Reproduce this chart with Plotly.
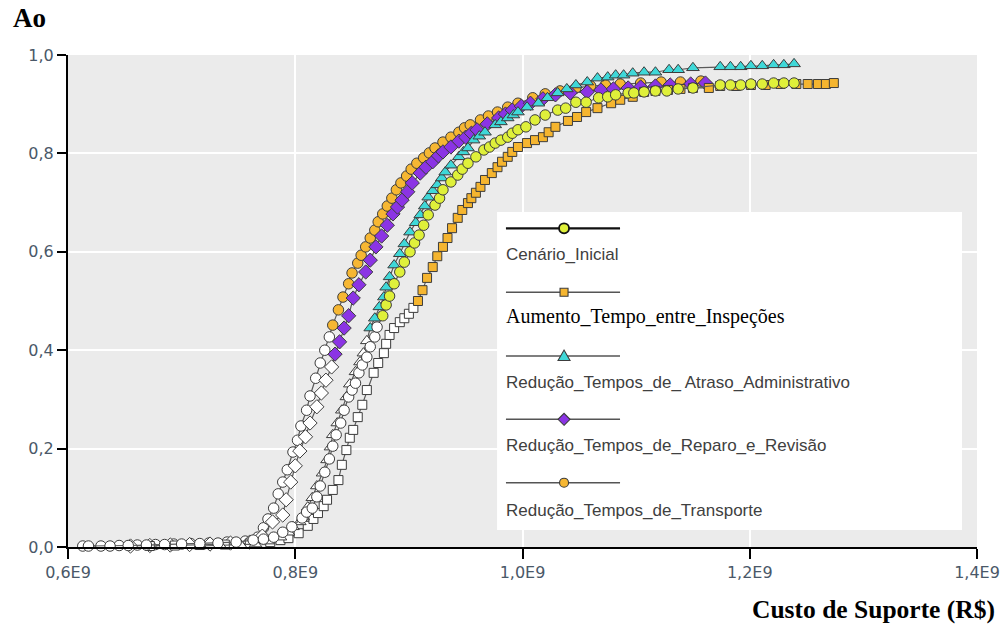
import plotly.graph_objects as go

# ---------------- data (Custo de Suporte in units of 1E9 R$, Ao as fraction) ----------------
cenario_x = [0.618, 0.637, 0.653, 0.669, 0.685, 0.700, 0.716, 0.732, 0.748, 0.763, 0.772, 0.781,
             0.789, 0.797, 0.806, 0.810, 0.815, 0.819, 0.822, 0.826, 0.830, 0.833, 0.836, 0.840,
             0.843, 0.847, 0.850, 0.853, 0.856, 0.859, 0.863, 0.866, 0.870, 0.872, 0.877, 0.880,
             0.883, 0.887, 0.892, 0.896, 0.901, 0.905, 0.909, 0.913, 0.917, 0.923, 0.927, 0.930,
             0.937, 0.943, 0.947, 0.952, 0.959, 0.966, 0.971, 0.976, 0.981, 0.987, 0.991, 0.996,
             1.003, 1.011, 1.020, 1.031, 1.038, 1.047, 1.056, 1.067, 1.075, 1.082, 1.093, 1.098,
             1.107, 1.117, 1.127, 1.137, 1.150, 1.174, 1.183, 1.192, 1.201, 1.211, 1.221, 1.230, 1.239]
cenario_y = [0.002, 0.002, 0.003, 0.004, 0.005, 0.006, 0.007, 0.008, 0.010, 0.014, 0.016, 0.020,
             0.030, 0.041, 0.059, 0.071, 0.079, 0.102, 0.124, 0.152, 0.179, 0.205, 0.228, 0.252,
             0.278, 0.305, 0.319, 0.333, 0.354, 0.370, 0.386, 0.407, 0.427, 0.447, 0.470, 0.492,
             0.510, 0.535, 0.559, 0.579, 0.600, 0.618, 0.634, 0.654, 0.675, 0.695, 0.709, 0.726,
             0.742, 0.756, 0.768, 0.780, 0.793, 0.807, 0.813, 0.821, 0.827, 0.833, 0.841, 0.848,
             0.854, 0.868, 0.878, 0.888, 0.892, 0.904, 0.904, 0.913, 0.915, 0.919, 0.923, 0.923,
             0.925, 0.927, 0.927, 0.931, 0.933, 0.939, 0.939, 0.939, 0.941, 0.941, 0.943, 0.943, 0.943]

aumento_x = [0.672, 0.694, 0.716, 0.738, 0.760, 0.778, 0.787, 0.794, 0.803, 0.811, 0.816, 0.820,
             0.825, 0.828, 0.833, 0.838, 0.841, 0.845, 0.848, 0.851, 0.855, 0.859, 0.863, 0.869,
             0.873, 0.878, 0.880, 0.883, 0.887, 0.892, 0.896, 0.900, 0.904, 0.908, 0.912, 0.916,
             0.921, 0.925, 0.930, 0.934, 0.938, 0.943, 0.947, 0.952, 0.955, 0.959, 0.963, 0.967,
             0.973, 0.978, 0.982, 0.987, 0.991, 0.996, 1.004, 1.011, 1.018, 1.023, 1.029, 1.040,
             1.048, 1.056, 1.066, 1.078, 1.086, 1.097, 1.107, 1.117, 1.128, 1.139, 1.150, 1.164,
             1.174, 1.188, 1.201, 1.214, 1.227, 1.241, 1.251, 1.260, 1.267, 1.274]
aumento_y = [0.002, 0.003, 0.004, 0.005, 0.007, 0.010, 0.014, 0.018, 0.028, 0.043, 0.057, 0.069,
             0.083, 0.096, 0.116, 0.136, 0.167, 0.197, 0.222, 0.238, 0.264, 0.289, 0.319, 0.354,
             0.374, 0.394, 0.413, 0.431, 0.445, 0.457, 0.465, 0.474, 0.486, 0.500, 0.522, 0.547,
             0.569, 0.591, 0.610, 0.628, 0.648, 0.669, 0.685, 0.699, 0.709, 0.720, 0.732, 0.746,
             0.760, 0.772, 0.783, 0.793, 0.803, 0.813, 0.821, 0.827, 0.833, 0.843, 0.854, 0.866,
             0.874, 0.884, 0.892, 0.902, 0.909, 0.915, 0.925, 0.927, 0.929, 0.931, 0.933, 0.933,
             0.937, 0.937, 0.939, 0.939, 0.941, 0.941, 0.941, 0.941, 0.941, 0.943]

atraso_x = [0.716, 0.734, 0.752, 0.765, 0.776, 0.787, 0.794, 0.798, 0.804, 0.807, 0.811, 0.815,
            0.819, 0.824, 0.828, 0.831, 0.833, 0.837, 0.841, 0.845, 0.848, 0.853, 0.857, 0.860,
            0.863, 0.866, 0.870, 0.874, 0.878, 0.880, 0.883, 0.887, 0.892, 0.896, 0.901, 0.906,
            0.910, 0.914, 0.917, 0.921, 0.925, 0.929, 0.932, 0.937, 0.944, 0.948, 0.952, 0.957,
            0.962, 0.967, 0.976, 0.981, 0.987, 0.992, 0.996, 1.004, 1.014, 1.022, 1.031, 1.039,
            1.047, 1.057, 1.066, 1.075, 1.082, 1.089, 1.097, 1.107, 1.117, 1.129, 1.137, 1.150,
            1.174, 1.183, 1.192, 1.201, 1.211, 1.221, 1.230, 1.239]
atraso_y = [0.002, 0.003, 0.004, 0.006, 0.012, 0.020, 0.030, 0.041, 0.051, 0.061, 0.081, 0.100,
            0.124, 0.150, 0.177, 0.203, 0.228, 0.252, 0.278, 0.305, 0.331, 0.356, 0.376, 0.394,
            0.419, 0.445, 0.465, 0.488, 0.508, 0.528, 0.549, 0.573, 0.596, 0.616, 0.640, 0.659,
            0.675, 0.693, 0.711, 0.724, 0.736, 0.750, 0.762, 0.776, 0.793, 0.803, 0.811, 0.827,
            0.835, 0.843, 0.858, 0.864, 0.872, 0.878, 0.884, 0.894, 0.902, 0.913, 0.923, 0.931,
            0.939, 0.945, 0.953, 0.955, 0.959, 0.959, 0.963, 0.965, 0.965, 0.970, 0.970, 0.974,
            0.976, 0.976, 0.976, 0.978, 0.978, 0.980, 0.980, 0.982]

reparo_x = [0.655, 0.672, 0.690, 0.707, 0.725, 0.743, 0.760, 0.771, 0.780, 0.789, 0.792, 0.796,
            0.800, 0.804, 0.809, 0.813, 0.819, 0.823, 0.827, 0.832, 0.835, 0.839, 0.843, 0.847,
            0.851, 0.856, 0.862, 0.866, 0.871, 0.876, 0.881, 0.886, 0.890, 0.894, 0.899, 0.903,
            0.910, 0.915, 0.921, 0.926, 0.930, 0.937, 0.944, 0.950, 0.955, 0.960, 0.969, 0.979,
            0.985, 0.991, 0.999, 1.007, 1.018, 1.029, 1.042, 1.057, 1.069, 1.080, 1.093, 1.104,
            1.117, 1.130, 1.148, 1.161]
reparo_y = [0.002, 0.003, 0.004, 0.005, 0.006, 0.008, 0.010, 0.022, 0.051, 0.065, 0.096, 0.132,
            0.165, 0.195, 0.224, 0.252, 0.285, 0.313, 0.339, 0.366, 0.392, 0.417, 0.445, 0.470,
            0.506, 0.533, 0.559, 0.583, 0.610, 0.632, 0.654, 0.677, 0.691, 0.705, 0.722, 0.740,
            0.760, 0.772, 0.783, 0.795, 0.803, 0.813, 0.825, 0.833, 0.841, 0.848, 0.860, 0.872,
            0.880, 0.888, 0.896, 0.902, 0.911, 0.919, 0.923, 0.925, 0.929, 0.931, 0.933, 0.935,
            0.937, 0.939, 0.941, 0.943]

transporte_x = [0.613, 0.629, 0.645, 0.661, 0.677, 0.693, 0.708, 0.724, 0.740, 0.756, 0.767, 0.772,
                0.776, 0.781, 0.785, 0.789, 0.793, 0.798, 0.802, 0.805, 0.810, 0.813, 0.818, 0.822,
                0.826, 0.830, 0.833, 0.838, 0.842, 0.847, 0.850, 0.855, 0.858, 0.862, 0.866, 0.870,
                0.873, 0.877, 0.881, 0.885, 0.889, 0.893, 0.898, 0.902, 0.907, 0.913, 0.918, 0.923,
                0.930, 0.937, 0.944, 0.949, 0.954, 0.963, 0.970, 0.978, 0.987, 0.996, 1.009, 1.020,
                1.033, 1.047, 1.060, 1.073, 1.086, 1.104, 1.122, 1.139, 1.157]
transporte_y = [0.002, 0.002, 0.003, 0.004, 0.005, 0.006, 0.007, 0.008, 0.010, 0.012, 0.020, 0.039,
                0.057, 0.079, 0.108, 0.132, 0.157, 0.193, 0.217, 0.246, 0.278, 0.307, 0.343, 0.374,
                0.400, 0.427, 0.451, 0.482, 0.508, 0.535, 0.557, 0.577, 0.593, 0.610, 0.628, 0.644,
                0.661, 0.677, 0.693, 0.709, 0.726, 0.740, 0.754, 0.768, 0.780, 0.791, 0.801, 0.811,
                0.823, 0.833, 0.843, 0.852, 0.858, 0.868, 0.876, 0.884, 0.894, 0.902, 0.913, 0.921,
                0.927, 0.933, 0.937, 0.939, 0.941, 0.943, 0.945, 0.945, 0.947]

series_names = ["Cenário_Inicial", "Aumento_Tempo_entre_Inspeções",
                "Redução_Tempos_de_ Atraso_Administrativo", "Redução_Tempos_de_Reparo_e_Revisão",
                "Redução_Tempos_de_Transporte"]
# Ao level from which the markers are shown filled (below it they are hollow)
fill_from_ao = [0.465, 0.495, 0.44, 0.39, 0.445]

x_tick_vals = [0.6, 0.8, 1.0, 1.2, 1.4]
x_tick_labels = ["0,6E9", "0,8E9", "1,0E9", "1,2E9", "1,4E9"]
y_tick_vals = [0.0, 0.2, 0.4, 0.6, 0.8, 1.0]
y_tick_labels = ["0,0", "0,2", "0,4", "0,6", "0,8", "1,0"]

# ---------------- styles ----------------
fills = ["#dff03a", "#f5b52f", "#3fd8d8", "#8b34e4", "#f6b733"]
symbols = ["circle", "square", "triangle-up", "diamond", "circle"]
sizes = [10.5, 9, 11, 11, 10.5]

xs = [cenario_x, aumento_x, atraso_x, reparo_x, transporte_x]
ys = [cenario_y, aumento_y, atraso_y, reparo_y, transporte_y]

fig = go.Figure()
draw_order = [4, 3, 1, 2, 0]
for i in draw_order:
    colors = [fills[i] if v >= fill_from_ao[i] else "#ffffff" for v in ys[i]]
    fig.add_trace(go.Scatter(
        x=xs[i], y=ys[i], mode="lines+markers", name=series_names[i],
        line=dict(color="#5a5a5a", width=1.2),
        marker=dict(symbol=symbols[i], size=sizes[i], color=colors,
                    line=dict(color="#3c3c3c", width=1)),
        cliponaxis=False, showlegend=False,
    ))

# ---------------- custom legend box (symbol line above the label) ----------------
shapes = [dict(type="rect", xref="paper", yref="paper", x0=0.472, x1=0.9835, y0=0.0346, y1=0.681,
               fillcolor="#ffffff", line=dict(width=0), layer="above")]
annotations = []
leg_line_y = [0.6478, 0.5177, 0.3882, 0.2596, 0.1307]
leg_text_y = [0.5935, 0.468, 0.334, 0.2053, 0.0752]
lx0, lx1, lxm = 0.4818, 0.6073, 0.5457
glyph_paths = {
    "triangle-up": "M-6,-4.5 L6,-4.5 L0,6 Z",
    "diamond": "M0,-6 L6,0 L0,6 L-6,0 Z",
}
for i in range(5):
    first = (i == 0)
    shapes.append(dict(type="line", xref="paper", yref="paper", x0=lx0, x1=lx1,
                       y0=leg_line_y[i], y1=leg_line_y[i], layer="above",
                       line=dict(color="#111111" if first else "#555555", width=2.2 if first else 1.6)))
    g = dict(xref="paper", yref="paper", xsizemode="pixel", ysizemode="pixel",
             xanchor=lxm, yanchor=leg_line_y[i], fillcolor=fills[i], layer="above",
             line=dict(color="#111111" if first else "#3c3c3c", width=1.8 if first else 1.1))
    if symbols[i] == "circle":
        r = 5 if first else 4.5
        g.update(type="circle", x0=-r, x1=r, y0=-r, y1=r)
    elif symbols[i] == "square":
        g.update(type="rect", x0=-4, x1=4, y0=-4, y1=4)
    else:
        g.update(type="path", path=glyph_paths[symbols[i]])
    shapes.append(g)
    if i == 1:
        font = dict(family="Liberation Serif", size=20, color="#000000")
    else:
        font = dict(family="Liberation Sans", size=17, color="#404040")
    annotations.append(dict(xref="paper", yref="paper", x=lx0 - 0.002, y=leg_text_y[i],
                            xanchor="left", yanchor="middle", text=series_names[i],
                            showarrow=False, font=font))

annotations.append(dict(xref="paper", yref="paper", x=-0.0627, y=1.075, xanchor="left",
                        yanchor="middle", text="<b>Ao</b>", showarrow=False,
                        font=dict(family="Liberation Serif", size=27, color="#000000")))
annotations.append(dict(xref="paper", yref="paper", x=1.022, y=-0.128, xanchor="right",
                        yanchor="middle", text="<b>Custo de Suporte (R$)</b>", showarrow=False,
                        font=dict(family="Liberation Serif", size=25.5, color="#000000")))

tick_font = dict(family="DejaVu Sans", size=16, color="#4a5868")
fig.update_layout(
    width=1006, height=630,
    margin=dict(l=68, r=29, t=55, b=83, autoexpand=False),
    paper_bgcolor="#ffffff", plot_bgcolor="#ebebeb",
    showlegend=False,
    shapes=shapes, annotations=annotations,
    xaxis=dict(range=[0.6, 1.4], tickvals=x_tick_vals, ticktext=x_tick_labels,
               showgrid=True, gridcolor="#ffffff", gridwidth=2, zeroline=False,
               showline=True, linecolor="#000000", linewidth=2, automargin=False,
               ticks="outside", ticklen=10, tickcolor="#000000", tickwidth=1.5,
               tickfont=tick_font, fixedrange=True),
    yaxis=dict(range=[0, 1.0], tickvals=y_tick_vals, ticktext=y_tick_labels,
               showgrid=True, gridcolor="#ffffff", gridwidth=2, zeroline=False,
               showline=True, linecolor="#000000", linewidth=2, automargin=False,
               ticks="outside", ticklen=9, tickcolor="#000000", tickwidth=1.5,
               tickfont=tick_font, fixedrange=True),
)

fig.write_html("out.html")
